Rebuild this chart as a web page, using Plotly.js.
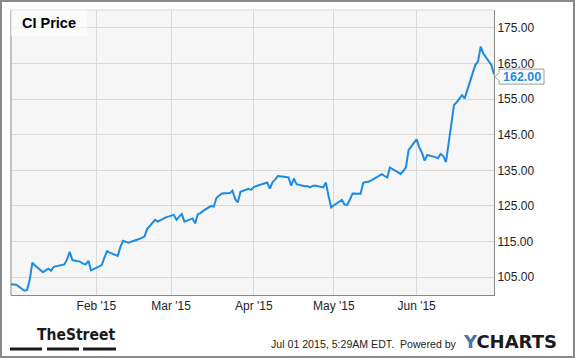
<!DOCTYPE html>
<html>
<head>
<meta charset="utf-8">
<script src="https://cdn.plot.ly/plotly-3.0.1.min.js"></script>
<style>
  html, body { margin: 0; padding: 0; background: #fff; }
  #chart { width: 575px; height: 358px; }
</style>
</head>
<body>
<div id="chart"></div>
<script>
// ---- Data ----
const dates = [
  '2014-12-31','2015-01-02','2015-01-05','2015-01-06','2015-01-07','2015-01-08','2015-01-09',
  '2015-01-12','2015-01-13','2015-01-14','2015-01-15','2015-01-16','2015-01-20','2015-01-21',
  '2015-01-22','2015-01-23','2015-01-26','2015-01-27','2015-01-28','2015-01-29','2015-01-30',
  '2015-02-02','2015-02-03','2015-02-04','2015-02-05','2015-02-06','2015-02-09','2015-02-10',
  '2015-02-11','2015-02-12','2015-02-13','2015-02-17','2015-02-18','2015-02-19','2015-02-20',
  '2015-02-23','2015-02-24','2015-02-25','2015-02-26','2015-02-27',
  '2015-03-02','2015-03-03','2015-03-04','2015-03-05','2015-03-06','2015-03-09','2015-03-10',
  '2015-03-11','2015-03-12','2015-03-13','2015-03-16','2015-03-17','2015-03-18','2015-03-19',
  '2015-03-20','2015-03-23','2015-03-24','2015-03-25','2015-03-26','2015-03-27','2015-03-30',
  '2015-03-31',
  '2015-04-01','2015-04-02','2015-04-06','2015-04-07','2015-04-08','2015-04-09','2015-04-10',
  '2015-04-13','2015-04-14','2015-04-15','2015-04-16','2015-04-17','2015-04-20','2015-04-21',
  '2015-04-22','2015-04-23','2015-04-24','2015-04-27','2015-04-28','2015-04-29','2015-04-30',
  '2015-05-01','2015-05-04','2015-05-05','2015-05-06','2015-05-07','2015-05-08','2015-05-11',
  '2015-05-12','2015-05-13','2015-05-14','2015-05-15','2015-05-18','2015-05-19','2015-05-20',
  '2015-05-21','2015-05-22','2015-05-26','2015-05-27','2015-05-28','2015-05-29',
  '2015-06-01','2015-06-02','2015-06-03','2015-06-04','2015-06-05','2015-06-08','2015-06-09',
  '2015-06-10','2015-06-11','2015-06-12','2015-06-15','2015-06-16','2015-06-17','2015-06-18',
  '2015-06-19','2015-06-22','2015-06-23','2015-06-24','2015-06-25','2015-06-26','2015-06-29',
  '2015-06-30'
];
const prices = [
  103.0,102.9,101.2,101.4,104.2,109.1,108.3,
  106.4,106.9,107.4,106.8,107.9,108.6,110.0,
  112.1,109.8,109.3,108.8,108.6,109.6,106.9,
  108.0,108.4,110.5,112.3,111.9,111.0,113.5,
  115.2,114.9,114.7,115.7,116.0,116.4,118.5,
  121.1,120.6,121.0,121.5,121.8,
  122.5,121.1,122.0,122.7,120.6,121.5,120.1,
  122.7,123.0,123.6,125.0,124.8,127.3,128.0,
  128.5,128.6,129.3,126.9,126.0,129.0,129.8,
  129.5,
  130.3,130.6,131.6,129.9,131.6,132.4,133.4,
  133.1,133.0,130.7,132.7,131.1,130.5,130.6,
  130.2,130.6,130.7,130.2,131.6,127.8,124.6,
  125.2,126.7,125.4,125.3,126.8,128.5,128.4,
  131.5,131.7,131.8,132.2,133.5,133.9,133.4,
  133.0,135.8,134.0,134.8,135.8,140.7,
  143.7,141.4,139.9,137.7,139.3,138.7,138.4,
  139.6,139.0,137.3,153.3,154.1,155.0,156.1,
  155.2,162.4,164.6,165.5,169.7,167.8,164.6,
  162.0
];
const xTickDates  = ['2015-02-01','2015-03-01','2015-04-01','2015-05-01','2015-06-01'];
const xTickLabels = ["Feb '15","Mar '15","Apr '15","May '15","Jun '15"];
const yTickValues = [105,115,125,135,145,155,165,175];
const yTickLabels = yTickValues.map(v => v.toFixed(2));
const seriesName = 'CI Price';
const stampText = 'Jul 01 2015, 5:29AM EDT.  Powered by';

// ---- Layout geometry ----
const W = 575, H = 358;
const M = {l: 11, r: 81, t: 10, b: 63};
const PW = W - M.l - M.r, PH = H - M.t - M.b;
const yMin = 100, yMax = 180;
const px = x => (x - M.l) / PW;              // pixel x -> paper x
const py = y => (M.t + PH - y) / PH;         // pixel y -> paper y
const yPix = v => M.t + PH - (v - yMin) / (yMax - yMin) * PH;

const lastVal = prices[prices.length - 1];
const yc = yPix(lastVal) + 2.5;              // callout centre
const bx0 = M.l + PW + 5, bx1 = bx0 + 45, tipX = M.l + PW + 1;
const calloutPath =
  'M ' + px(bx0) + ',' + py(yc - 7.5) +
  ' L ' + px(bx1) + ',' + py(yc - 7.5) +
  ' L ' + px(bx1) + ',' + py(yc + 7.5) +
  ' L ' + px(bx0) + ',' + py(yc + 7.5) +
  ' L ' + px(bx0) + ',' + py(yc + 4) +
  ' L ' + px(tipX) + ',' + py(yc) +
  ' L ' + px(bx0) + ',' + py(yc - 4) + ' Z';

const FONT = '"Liberation Sans", Arial, sans-serif';

const trace = {
  x: dates, y: prices, type: 'scatter', mode: 'lines', name: seriesName,
  line: {color: '#1a8be6', width: 2}, hoverinfo: 'skip'
};

const layout = {
  width: W, height: H,
  margin: {l: M.l, r: M.r, t: M.t, b: M.b, pad: 0},
  paper_bgcolor: '#ffffff', plot_bgcolor: '#f6f6f6',
  showlegend: false,
  font: {family: FONT, color: '#222', size: 12},
  title: {
    text: '<b>' + seriesName + '</b>',
    font: {family: FONT, size: 14.5, color: '#000'},
    xref: 'paper', x: px(22), xanchor: 'left',
    yref: 'paper', y: py(23), yanchor: 'middle'
  },
  xaxis: {
    type: 'date', range: ['2014-12-31', '2015-06-30'],
    tickmode: 'array', tickvals: xTickDates, ticktext: xTickLabels,
    showgrid: true, gridcolor: '#d9d9d9', gridwidth: 1,
    showline: true, linecolor: '#888', linewidth: 1,
    ticks: '', zeroline: false, fixedrange: true,
    tickfont: {family: FONT, size: 12, color: '#222'}
  },
  yaxis: {
    side: 'right', range: [yMin, yMax],
    tickmode: 'array', tickvals: yTickValues, ticktext: yTickLabels,
    showgrid: true, gridcolor: '#d9d9d9', gridwidth: 1,
    showline: true, linecolor: '#888', linewidth: 1,
    ticks: '', zeroline: false, fixedrange: true,
    tickfont: {family: FONT, size: 12, color: '#222'}
  },
  shapes: [
    // plot frame: left dark, top light
    {type: 'line', xref: 'paper', yref: 'paper', x0: 0, x1: 0, y0: 0, y1: 1, line: {color: '#888', width: 1}},
    {type: 'line', xref: 'paper', yref: 'paper', x0: 0, x1: 1, y0: 1, y1: 1, line: {color: '#d9d9d9', width: 1}},
    // title backdrop
    {type: 'rect', xref: 'paper', yref: 'paper', x0: px(11), x1: px(87), y0: py(36), y1: py(10.5),
     fillcolor: 'rgba(255,255,255,0.6)', line: {width: 0}, layer: 'above'},
    // outer image frame
    {type: 'rect', xref: 'paper', yref: 'paper', x0: px(1), x1: px(574), y0: py(357), y1: py(1),
     line: {color: '#8a8a8a', width: 2}},
    // TheStreet bars
    {type: 'rect', xref: 'paper', yref: 'paper', x0: px(10), x1: px(42), y0: py(350.5), y1: py(347.5), fillcolor: '#1a1a1a', line: {width: 0}},
    {type: 'rect', xref: 'paper', yref: 'paper', x0: px(47), x1: px(79), y0: py(350.5), y1: py(347.5), fillcolor: '#1a1a1a', line: {width: 0}},
    {type: 'rect', xref: 'paper', yref: 'paper', x0: px(83), x1: px(116), y0: py(350.5), y1: py(347.5), fillcolor: '#1a1a1a', line: {width: 0}},
    // last value callout
    {type: 'path', xref: 'paper', yref: 'paper', path: calloutPath, fillcolor: '#ffffff', line: {color: '#999', width: 1}}
  ],
  annotations: [
    {xref: 'paper', yref: 'paper', x: px((bx0 + bx1) / 2), y: py(yc), xanchor: 'center', yanchor: 'middle',
     text: '<b>' + lastVal.toFixed(2) + '</b>', showarrow: false,
     font: {family: FONT, size: 12.5, color: '#1a8be6'}},
    {xref: 'paper', yref: 'paper', x: px(35), y: py(334.5), xanchor: 'left', yanchor: 'middle',
     text: '<b>TheStreet</b>', showarrow: false,
     font: {family: '"Liberation Sans Narrow", "DejaVu Sans Condensed", Arial, sans-serif', size: 15.5, color: '#1a1a1a'}},
    {xref: 'paper', yref: 'paper', x: px(459), y: py(344), xanchor: 'right', yanchor: 'middle',
     text: stampText.replace('  ', '&nbsp; '), showarrow: false,
     font: {family: FONT, size: 10.6, color: '#222'}},
    {xref: 'paper', yref: 'paper', x: px(461), y: py(341.5), xanchor: 'left', yanchor: 'middle',
     text: '<b><span style="color:#4f6fa8">Y</span>CHARTS</b>', showarrow: false,
     font: {family: '"DejaVu Sans", Arial, sans-serif', size: 18, color: '#1b1b1b'}}
  ]
};

Plotly.newPlot('chart', [trace], layout, {staticPlot: true, displayModeBar: false});
</script>
</body>
</html>
